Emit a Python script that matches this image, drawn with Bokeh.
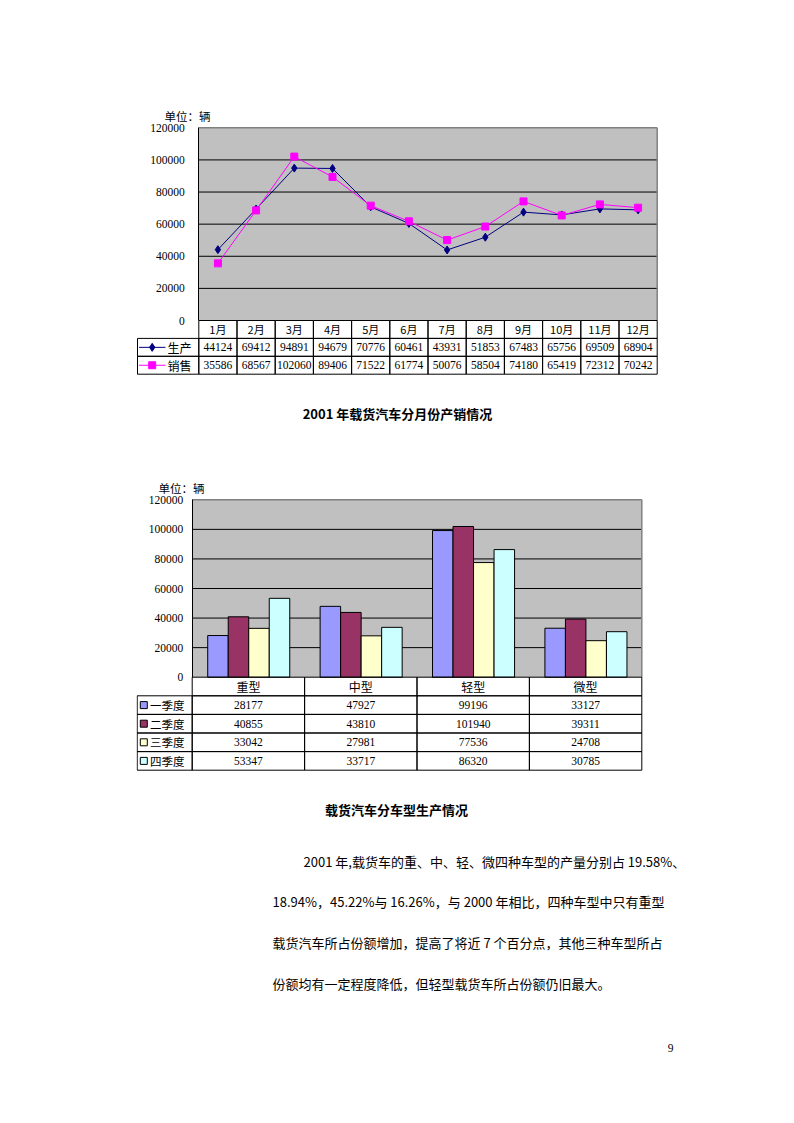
from bokeh.plotting import figure
from bokeh.models import Range1d, FixedTicker, NumeralTickFormatter
from bokeh.layouts import column
from bokeh.embed import file_html
from bokeh.resources import INLINE
from bokeh.core.properties import value

# ---------------- data ----------------
months = ["1月", "2月", "3月", "4月", "5月", "6月", "7月", "8月", "9月", "10月", "11月", "12月"]
production = [44124, 69412, 94891, 94679, 70776, 60461, 43931, 51853, 67483, 65756, 69509, 68904]
sales = [35586, 68567, 102060, 89406, 71522, 61774, 50076, 58504, 74180, 65419, 72312, 70242]
line_series = ["生产", "销售"]
y_ticks = [0, 20000, 40000, 60000, 80000, 100000, 120000]
unit_label = "单位：辆"
title1 = "2001 年载货汽车分月份产销情况"

truck_types = ["重型", "中型", "轻型", "微型"]
quarters = ["一季度", "二季度", "三季度", "四季度"]
q1 = [28177, 47927, 99196, 33127]
q2 = [40855, 43810, 101940, 39311]
q3 = [33042, 27981, 77536, 24708]
q4 = [53347, 33717, 86320, 30785]
title2 = "载货汽车分车型生产情况"

paragraph = [
    "2001 年,载货车的重、中、轻、微四种车型的产量分别占 19.58%、",
    "18.94%，45.22%与 16.26%，与 2000 年相比，四种车型中只有重型",
    "载货汽车所占份额增加，提高了将近 7 个百分点，其他三种车型所占",
    "份额均有一定程度降低，但轻型载货车所占份额仍旧最大。",
]
page_number = "9"

# ---------------- styles ----------------
CJK = value("Noto Sans CJK SC")
NUM = value("Liberation Serif")
PLOT_BG = "#C0C0C0"
BORDER_GRAY = "#808080"
LINE_COLORS = ["#000080", "#FF00FF"]
LINE_MARKERS = ["diamond", "square"]
BAR_COLORS = ["#9999FF", "#993366", "#FFFFCC", "#CCFFFF"]
W = 778
FRAME_LEFT = 136   # page px
FRAME_RIGHT = 700  # page px


def make_chart(fig_top, fig_bottom, plot_left, plot_right, zero_y, top_y, ncat, ymax, standoff):
    sx = (plot_right - plot_left) / ncat
    sy = (zero_y - top_y) / ymax
    X = lambda px: (px - plot_left) / sx
    Y = lambda py: (zero_y - py) / sy
    p = figure(width=W, height=fig_bottom - fig_top,
               x_range=Range1d(X(FRAME_LEFT), X(FRAME_RIGHT)),
               y_range=Range1d(Y(fig_bottom), Y(fig_top)),
               x_axis_location=None, output_backend="svg", toolbar_location=None,
               min_border_left=FRAME_LEFT, min_border_right=W - FRAME_RIGHT,
               min_border_top=0, min_border_bottom=0, title=None,
               outline_line_color=None, background_fill_color="white")
    p.grid.visible = False
    ax = p.yaxis[0]
    ax.fixed_location = 0
    ax.bounds = (0, ymax)
    ax.ticker = FixedTicker(ticks=y_ticks)
    ax.formatter = NumeralTickFormatter(format="0")
    ax.major_tick_out = 0
    ax.major_tick_in = 0
    ax.minor_tick_out = 0
    ax.minor_tick_in = 0
    ax.axis_line_color = "black"
    ax.major_label_text_font = "Liberation Serif"
    ax.major_label_text_font_size = "11.5px"
    ax.major_label_text_color = "black"
    ax.major_label_standoff = standoff
    # plot area
    p.quad(left=[0], right=[ncat], bottom=[0], top=[ymax], fill_color=PLOT_BG, line_color=None)
    inner = y_ticks[1:-1]
    p.segment(x0=[0] * len(inner), y0=inner, x1=[ncat] * len(inner), y1=inner, line_color="black", line_width=1)
    p.segment(x0=[0, ncat], y0=[ymax, 0], x1=[ncat, ncat], y1=[ymax, ymax], line_color=BORDER_GRAY, line_width=1.5)
    return p, X, Y, sy


# ================= chart 1: monthly production / sales =================
n1 = len(months)
pA, XA, YA, syA = make_chart(0, 430, 198.3, 656.7, 320.0, 127.3, n1, y_ticks[-1], 14)
xm = [i + 0.5 for i in range(n1)]
for k, (vals, col, mk) in enumerate(zip([production, sales], LINE_COLORS, LINE_MARKERS)):
    pA.line(xm, vals, line_color=col, line_width=1)
    pA.scatter(xm, vals, marker=mk, size=8 if mk == "diamond" else 7, fill_color=col, line_color=col)

rhA = 17.9
legA_left = XA(137)
rows_y = [YA(320 + rhA * (r + 0.5)) for r in range(3)]
hA = rhA / syA
pA.rect(x=xm, y=[rows_y[0]] * n1, width=1, height=hA, fill_color=None, line_color="black")
pA.text(x=xm, y=[rows_y[0]] * n1, text=months, text_font=CJK, text_font_size="11px",
        text_align="center", text_baseline="middle", text_color="black")
for k, vals in enumerate([production, sales]):
    yy = rows_y[k + 1]
    pA.rect(x=xm, y=[yy] * n1, width=1, height=hA, fill_color=None, line_color="black")
    pA.rect(x=[legA_left / 2], y=[yy], width=-legA_left, height=hA, fill_color=None, line_color="black")
    pA.text(x=xm, y=[yy] * n1, text=[str(v) for v in vals], text_font=NUM, text_font_size="11.5px",
            text_align="center", text_baseline="middle", text_color="black")
    pA.segment(x0=[XA(138.5)], y0=[yy], x1=[XA(165)], y1=[yy], line_color=LINE_COLORS[k], line_width=1)
    pA.scatter([XA(151.7)], [yy], marker=LINE_MARKERS[k], size=8 if k == 0 else 7,
               fill_color=LINE_COLORS[k], line_color=LINE_COLORS[k])
    pA.text(x=[XA(167)], y=[yy], text=[line_series[k]], text_font=CJK, text_font_size="12px",
            text_align="left", text_baseline="middle", text_color="black")

pA.text(x=[XA(164)], y=[YA(115)], text=[unit_label], text_font=CJK, text_font_size="11.5px",
        text_align="left", text_baseline="middle", text_color="black")
pA.text(x=[XA(397)], y=[YA(413)], text=[title1], text_font=CJK, text_font_size="13px",
        text_font_style="bold", text_align="center", text_baseline="middle", text_color="black")

# ================= chart 2: production by truck type (+ text below) =================
n2 = len(truck_types)
pB, XB, YB, syB = make_chart(430, 1115, 191.7, 641.3, 676.7, 499.3, n2, y_ticks[-1], 9)
bw = 0.1825
for j, (vals, col) in enumerate(zip([q1, q2, q3, q4], BAR_COLORS)):
    xs = [i + 0.503 + (j - 1.5) * bw for i in range(n2)]
    pB.vbar(x=xs, top=vals, bottom=0, width=bw, fill_color=col, line_color="black", line_width=1)

rhB = 18.6
legB_left = XB(136.7)
xc = [i + 0.5 for i in range(n2)]
rowsB = [YB(676.7 + rhB * (r + 0.5)) for r in range(5)]
hB = rhB / syB
pB.rect(x=xc, y=[rowsB[0]] * n2, width=1, height=hB, fill_color=None, line_color="black")
pB.text(x=xc, y=[rowsB[0]] * n2, text=truck_types, text_font=CJK, text_font_size="12px",
        text_align="center", text_baseline="middle", text_color="black")
for k, vals in enumerate([q1, q2, q3, q4]):
    yy = rowsB[k + 1]
    pB.rect(x=xc, y=[yy] * n2, width=1, height=hB, fill_color=None, line_color="black")
    pB.rect(x=[legB_left / 2], y=[yy], width=-legB_left, height=hB, fill_color=None, line_color="black")
    pB.text(x=xc, y=[yy] * n2, text=[str(v) for v in vals], text_font=NUM, text_font_size="11.5px",
            text_align="center", text_baseline="middle", text_color="black")
    pB.scatter([XB(143.3)], [yy], marker="square", size=7, fill_color=BAR_COLORS[k], line_color="black")
    pB.text(x=[XB(149.5)], y=[yy], text=[quarters[k]], text_font=CJK, text_font_size="11.5px",
            text_align="left", text_baseline="middle", text_color="black")

pB.text(x=[XB(158)], y=[YB(487)], text=[unit_label], text_font=CJK, text_font_size="11.5px",
        text_align="left", text_baseline="middle", text_color="black")
pB.text(x=[XB(396)], y=[YB(808.5)], text=[title2], text_font=CJK, text_font_size="13px",
        text_font_style="bold", text_align="center", text_baseline="middle", text_color="black")

# paragraph and page number (page-pixel positions converted to this frame)
para_x = [303, 272, 272, 272]
para_y = [861, 901, 942, 983]
pB.text(x=[XB(v) for v in para_x], y=[YB(v) for v in para_y], text=paragraph, text_font=CJK,
        text_font_size="13px", text_align="left", text_baseline="middle", text_color="black")
pB.text(x=[XB(670)], y=[YB(1047)], text=[page_number], text_font=NUM, text_font_size="11.5px",
        text_align="center", text_baseline="middle", text_color="black")

layout = column(pA, pB, spacing=0)
open("out.html", "w").write(file_html(layout, INLINE))
